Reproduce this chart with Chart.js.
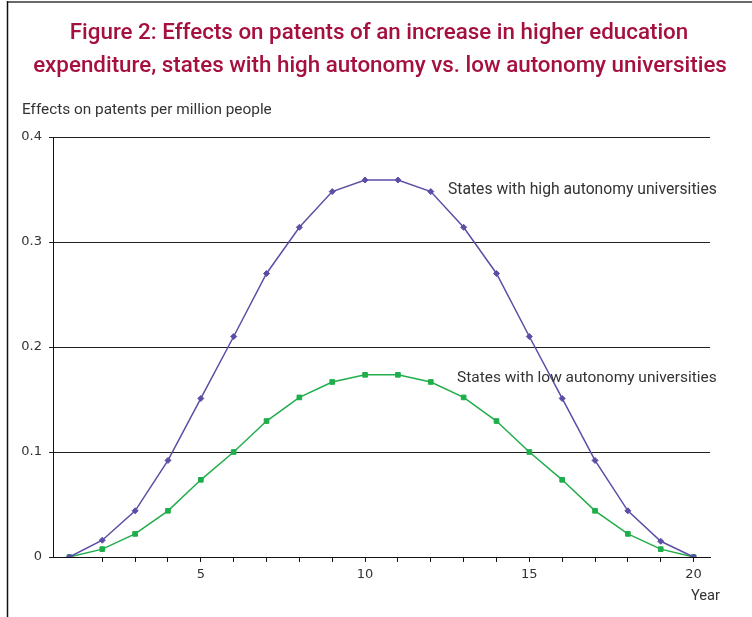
<!DOCTYPE html>
<html>
<head>
<meta charset="utf-8">
<script src="https://cdn.jsdelivr.net/npm/chart.js@4.4.1/dist/chart.umd.min.js"></script>
<style>
html,body{margin:0;padding:0;background:#fff;}
#c{display:block;}
</style>
</head>
<body>
<canvas id="c" width="752" height="617"></canvas>
<script>
const titleLines = [
  "Figure 2: Effects on patents of an increase in higher education",
  "expenditure, states with high autonomy vs. low autonomy universities"
];
const yAxisCaption = "Effects on patents per million people";
const xAxisCaption = "Year";
const years = [1,2,3,4,5,6,7,8,9,10,11,12,13,14,15,16,17,18,19,20];
const highLabel = "States with high autonomy universities";
const lowLabel = "States with low autonomy universities";
const highValues = [0,0.016,0.044,0.092,0.151,0.21,0.27,0.314,0.348,0.359,0.359,0.348,0.314,0.27,0.21,0.151,0.092,0.044,0.015,0];
const lowValues = [0,0.0075,0.022,0.044,0.0735,0.1,0.1295,0.152,0.1667,0.1735,0.1735,0.1667,0.152,0.1295,0.1,0.0735,0.044,0.022,0.0075,0];
const yTicks = [0,0.1,0.2,0.3,0.4];
const xLabelYears = [5,10,15,20];

const TXT = '#333333';
const TITLE_COLOR = '#a5103e';
const PURPLE = '#5a4fa6';
const GREEN = '#1fae4b';

function fitFont(ctx, text, width, weight, family) {
  let size = 20;
  ctx.font = weight + ' ' + size + 'px ' + family;
  const w = ctx.measureText(text).width;
  size = size * width / w;
  return weight + ' ' + size.toFixed(2) + 'px ' + family;
}

const textPlugin = {
  id: 'texts',
  beforeDraw(chart) {
    const ctx = chart.ctx;
    ctx.save();
    ctx.strokeStyle = '#6a6a6a';
    ctx.lineWidth = 2;
    ctx.beginPath(); ctx.moveTo(7, 2); ctx.lineTo(752, 2); ctx.stroke();
    ctx.strokeStyle = '#111';
    ctx.lineWidth = 1.5;
    ctx.beginPath(); ctx.moveTo(7.5, 1); ctx.lineTo(7.5, 617); ctx.stroke();
    ctx.restore();
  },
  afterDraw(chart) {
    const ctx = chart.ctx;
    ctx.save();
    ctx.textBaseline = 'middle';
    ctx.fillStyle = TITLE_COLOR;
    ctx.textAlign = 'center';
    ctx.font = fitFont(ctx, titleLines[1], 694, '500', 'Roboto, sans-serif');
    ctx.fillText(titleLines[0], 379, 33);
    ctx.fillText(titleLines[1], 380, 66);
    ctx.fillStyle = TXT;
    ctx.textAlign = 'left';
    ctx.font = fitFont(ctx, yAxisCaption, 250, '400', 'Roboto, sans-serif');
    ctx.fillText(yAxisCaption, 22, 110);
    ctx.font = fitFont(ctx, highLabel, 269, '400', 'Roboto, sans-serif');
    ctx.fillText(highLabel, 448, 190);
    ctx.font = fitFont(ctx, lowLabel, 260, '400', 'Roboto, sans-serif');
    ctx.fillText(lowLabel, 457, 378);
    ctx.font = fitFont(ctx, xAxisCaption, 29, '400', 'Roboto, sans-serif');
    ctx.fillText(xAxisCaption, 691, 596);
    ctx.restore();
  }
};

new Chart(document.getElementById('c'), {
  type: 'line',
  data: {
    datasets: [
      {
        label: highLabel,
        data: years.map((x, i) => ({x: x, y: highValues[i]})),
        borderColor: PURPLE,
        backgroundColor: PURPLE,
        borderWidth: 1.5,
        pointStyle: 'rectRot',
        pointRadius: 3,
        pointBorderWidth: 1,
        tension: 0
      },
      {
        label: lowLabel,
        data: years.map((x, i) => ({x: x, y: lowValues[i]})),
        borderColor: GREEN,
        backgroundColor: GREEN,
        borderWidth: 1.5,
        pointStyle: 'rect',
        pointRadius: 3.3,
        pointBorderWidth: 1,
        tension: 0
      }
    ]
  },
  options: {
    responsive: false,
    animation: false,
    layout: {padding: {left: 0, right: 42, top: 137, bottom: 0}},
    plugins: {legend: {display: false}, title: {display: false}, tooltip: {enabled: false}},
    scales: {
      x: {
        type: 'linear',
        min: 0.5,
        max: 20.5,
        afterBuildTicks(scale) {
          scale.ticks = years.filter(v => v >= 2).map(v => ({value: v}));
        },
        afterFit(scale) { scale.height = 60; },
        grid: {drawOnChartArea: false, drawTicks: true, tickLength: 5, color: '#111', lineWidth: 1},
        border: {display: true, color: '#111', width: 1},
        ticks: {
          autoSkip: false,
          maxRotation: 0,
          padding: 5,
          color: TXT,
          font: {family: 'DejaVu Sans', size: 13},
          callback: v => xLabelYears.includes(v) ? String(v) : ''
        }
      },
      y: {
        min: 0,
        max: 0.4,
        afterBuildTicks(scale) {
          scale.ticks = yTicks.map(v => ({value: v}));
        },
        afterFit(scale) { scale.width = 53; },
        grid: {color: '#222', lineWidth: 1, tickLength: 4, drawTicks: true},
        border: {display: true, color: '#111', width: 1},
        ticks: {
          padding: 7,
          color: TXT,
          font: {family: 'DejaVu Sans', size: 13},
          callback: v => v === 0 ? '0' : v.toFixed(1)
        }
      }
    }
  },
  plugins: [textPlugin]
});
</script>
</body>
</html>
